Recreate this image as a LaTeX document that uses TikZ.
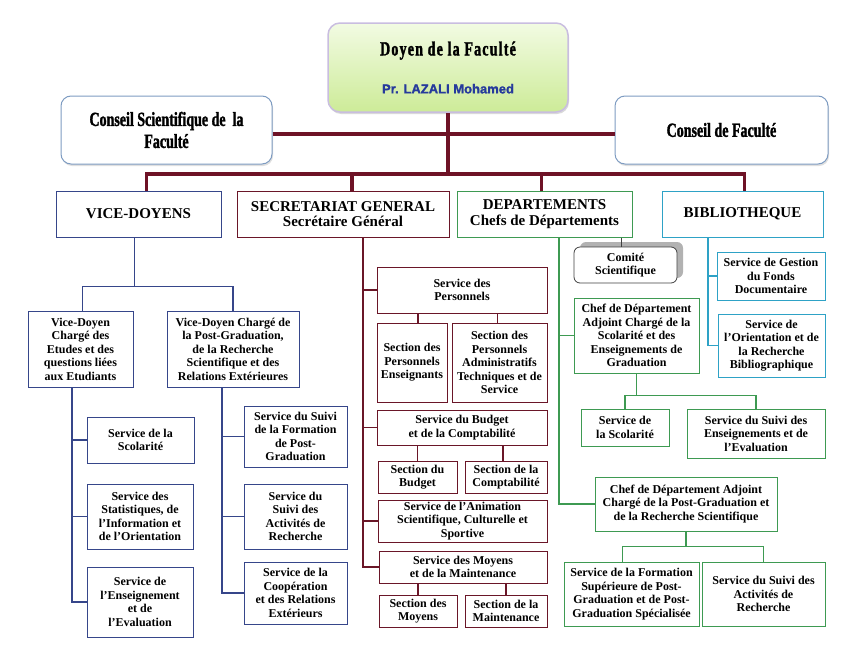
\documentclass[tikz,border=0pt]{standalone}
\usepackage{fontspec}
\setmainfont{Liberation Serif}
\newfontfamily\condfont[FakeStretch=0.7,FakeBold=1.5]{Liberation Serif Bold}
\newfontfamily\doyenfont[FakeStretch=0.7,FakeBold=1.5,LetterSpace=6]{Liberation Serif Bold}
\newfontfamily\namefont[FakeBold=1.5]{Liberation Sans Bold}
\usetikzlibrary{shadows}
\definecolor{busred}{HTML}{6E1226}
\definecolor{sgred}{HTML}{6A1628}
\definecolor{vdblue}{HTML}{36468A}
\definecolor{depgreen}{HTML}{3E9A52}
\definecolor{bibteal}{HTML}{2EA2C6}
\definecolor{conseil}{HTML}{7E9CC2}
\definecolor{namblue}{HTML}{263A9C}
\definecolor{doyenedge}{HTML}{C9BDE0}
\definecolor{doyentop}{HTML}{F2FBE3}
\definecolor{doyenbot}{HTML}{CDEB98}

\begin{document}
\begin{tikzpicture}[x=1pt,y=-1pt,
  every node/.style={align=center,inner xsep=2pt,inner ysep=1pt,
    font=\bfseries\fontsize{12}{13.5}\selectfont},
  doyenbox/.style={draw=doyenedge,line width=1.5pt,rounded corners=12pt,
    top color=doyentop,bottom color=doyenbot,
    drop shadow={opacity=.3,shadow xshift=1pt,shadow yshift=-2pt},
    font=\doyenfont\fontsize{20}{22}\selectfont},
  council/.style={draw=conseil,fill=white,rounded corners=10pt,line width=1pt,
    drop shadow={opacity=.25,shadow xshift=1pt,shadow yshift=-2pt},
    font=\condfont\fontsize{20}{22}\selectfont},
  head/.style={fill=white,line width=1pt,minimum height=46pt,
    font=\bfseries\fontsize{15}{15.5}\selectfont},
  vdbox/.style={draw=vdblue,fill=white,line width=1pt},
  sgbox/.style={draw=sgred,fill=white,line width=1pt},
  depbox/.style={draw=depgreen,fill=white,line width=1pt},
  bibbox/.style={draw=bibteal,fill=white,line width=1pt},
  combox/.style={draw=black!75,fill=white,rounded corners=6pt,line width=.8pt,
    drop shadow={shadow xshift=6pt,shadow yshift=5pt,opacity=1,fill=black!30}},
  busline/.style={draw=busred,line width=3.5pt},
  vdline/.style={draw=vdblue,line width=1.2pt},
  sgline/.style={draw=sgred,line width=1.2pt},
  depline/.style={draw=depgreen,line width=1.2pt},
  bibline/.style={draw=bibteal,line width=1.2pt}]

  \useasboundingbox (0,0) rectangle (856,656);

  % direction
  \node[doyenbox,minimum width=240pt,minimum height=89pt] (doyen) at (448,67.5)
    {Doyen de la Faculté\\[16pt]{\namefont\fontsize{13}{13}\selectfont\color{namblue}Pr. LAZALI Mohamed}};
  \node[council,minimum width=211pt,minimum height=68pt] (csf) at (166.5,130)
    {Conseil Scientifique de\ \ la\\Faculté};
  \node[council,minimum width=213pt,minimum height=68pt] (cf) at (721.5,130)
    {Conseil de Faculté};

  \node[head,draw=vdblue,minimum width=165pt] (vd) at (138.5,214) {VICE-DOYENS};
  \node[head,draw=sgred,minimum width=212pt] (sg) at (343,214)
    {SECRETARIAT GENERAL\\Secrétaire Général};
  \node[head,draw=depgreen,minimum width=175pt] (dep) at (544.5,214)
    {DEPARTEMENTS\\Chefs de Départements};
  \node[head,draw=bibteal,minimum width=161pt] (bib) at (742.5,214) {BIBLIOTHEQUE};

  \coordinate (bus) at (448,174);
  \draw[busline] ([yshift=-4pt]csf.east) -- ([yshift=-4pt]cf.west);
  \draw[busline] (doyen.south) -- (bus);
  \draw[busline] ([xshift=8pt]vd.north) |- (bus) -| ([xshift=2pt]bib.north);
  \draw[busline] ([xshift=9pt]sg.north) -- ([xshift=9pt]sg.north |- bus);
  \draw[busline] ([xshift=-3pt]dep.north) -- ([xshift=-3pt]dep.north |- bus);

  % vice-doyens
  \node[vdbox,minimum width=105pt,minimum height=76pt] (vd1) at (80.5,349)
    {Vice-Doyen\\Chargé des\\Etudes et des\\questions liées\\aux Etudiants};
  \node[vdbox,minimum width=132pt,minimum height=76pt] (vd2) at (233,349)
    {Vice-Doyen Chargé de\\la Post-Graduation,\\de la Recherche\\Scientifique et des\\Relations Extérieures};
  \node[vdbox,minimum width=107pt,minimum height=46pt] (sv1) at (140.5,440)
    {Service de la\\Scolarité};
  \node[vdbox,minimum width=106pt,minimum height=65pt] (sv2) at (140,516.5)
    {Service des\\Statistiques, de\\l’Information et\\de l’Orientation};
  \node[vdbox,minimum width=106pt,minimum height=70pt] (sv3) at (140,602)
    {Service de\\l’Enseignement\\et de\\l’Evaluation};
  \node[vdbox,minimum width=103pt,minimum height=61pt] (sv4) at (295.5,436.5)
    {Service du Suivi\\de la Formation\\de Post-\\Graduation};
  \node[vdbox,minimum width=103pt,minimum height=65pt] (sv5) at (295.5,516.5)
    {Service du\\Suivi des\\Activités de\\Recherche};
  \node[vdbox,minimum width=103pt,minimum height=62pt] (sv6) at (295.5,593)
    {Service de la\\Coopération\\et des Relations\\Extérieurs};

  \draw[vdline] ([xshift=-4pt]vd.south) -- ++(0,49) coordinate (vdb);
  \draw[vdline] ([xshift=2pt]vd1.north) |- (vdb) -| (vd2.north);
  \coordinate (vt1) at ([xshift=-8.5pt]vd1.south);
  \coordinate (vt2) at ([xshift=-11pt]vd2.south);
  \foreach \n in {sv1,sv2,sv3} \draw[vdline] (vt1) |- (\n.west);
  \foreach \n in {sv4,sv5,sv6} \draw[vdline] (vt2) |- (\n.west);

  % secretariat general
  \node[sgbox,minimum width=170pt,minimum height=46pt] (sp) at (462,290)
    {Service des\\Personnels};
  \node[sgbox,minimum width=70pt,minimum height=79pt] (spe) at (412,362.5)
    {Section des\\Personnels\\Enseignants};
  \node[sgbox,minimum width=95pt,minimum height=79pt] (spa) at (499.5,362.5)
    {Section des\\Personnels\\Administratifs\\Techniques et de\\Service};
  \node[sgbox,minimum width=170pt,minimum height=35pt] (sb) at (462,427.5)
    {Service du Budget\\et de la Comptabilité};
  \node[sgbox,minimum width=79pt,minimum height=32pt] (sbb) at (417.5,477)
    {Section du\\Budget};
  \node[sgbox,minimum width=82pt,minimum height=32pt] (sbc) at (506,477)
    {Section de la\\Comptabilité};
  \node[sgbox,minimum width=169pt,minimum height=42pt] (sa) at (462.5,521)
    {Service de l’Animation\\Scientifique, Culturelle et\\Sportive};
  \node[sgbox,minimum width=168pt,minimum height=32pt] (sm) at (463,567)
    {Service des Moyens\\et de la Maintenance};
  \node[sgbox,minimum width=78pt,minimum height=32pt] (smm) at (418,611)
    {Section des\\Moyens};
  \node[sgbox,minimum width=82pt,minimum height=32pt] (smt) at (506,611)
    {Section de la\\Maintenance};

  \coordinate (sgt) at ([xshift=20pt]sg.south);
  \foreach \n in {sp,sb,sa,sm} \draw[sgline] (sgt) |- (\n.west);
  \draw[sgline] ([xshift=6pt]spe.north) -- ([xshift=6pt]spe.north |- sp.south);
  \draw[sgline] ([xshift=-2pt]spa.north) -- ([xshift=-2pt]spa.north |- sp.south);
  \draw[sgline] (sbb.north) -- (sbb.north |- sb.south);
  \draw[sgline] ([xshift=-3pt]sbc.north) -- ([xshift=-3pt]sbc.north |- sb.south);
  \draw[sgline] (smm.north) -- (smm.north |- sm.south);
  \draw[sgline] (smt.north) -- (smt.north |- sm.south);

  % departements
  \node[combox,minimum width=103pt,minimum height=36pt] (com) at (625.5,265)
    {Comité\\Scientifique};
  \node[depbox,minimum width=125pt,minimum height=75pt] (cd1) at (636.5,335.5)
    {Chef de Département\\Adjoint Chargé de la\\Scolarité et des\\Enseignements de\\Graduation};
  \node[depbox,minimum width=88pt,minimum height=37pt] (ds1) at (625,427.5)
    {Service de\\la Scolarité};
  \node[depbox,minimum width=138pt,minimum height=49pt] (ds2) at (756,433.5)
    {Service du Suivi des\\Enseignements et de\\l’Evaluation};
  \node[depbox,minimum width=182pt,minimum height=54pt] (cd2) at (686,504)
    {Chef de Département Adjoint\\Chargé de la Post-Graduation et\\de la Recherche Scientifique};
  \node[depbox,minimum width=135pt,minimum height=64pt] (ds3) at (631.5,594)
    {Service de la Formation\\Supérieure de Post-\\Graduation et de Post-\\Graduation Spécialisée};
  \node[depbox,minimum width=123pt,minimum height=64pt] (ds4) at (763.5,594)
    {Service du Suivi des\\Activités de\\Recherche};

  \draw[black!75,line width=1pt] ([xshift=-4pt]com.north) -- ([xshift=-4pt]com.north |- dep.south);
  \coordinate (dt) at ([xshift=14.5pt]dep.south);
  \foreach \n in {cd1,cd2} \draw[depline] (dt) |- (\n.west);
  \draw[depline] (cd1.south) -- ++(0,22) coordinate (cdb1);
  \draw[depline] (ds1.north) |- (cdb1) -| (ds2.north);
  \draw[depline] (cd2.south) -- ++(0,15) coordinate (cdb2);
  \draw[depline] ([xshift=-9pt]ds3.north) |- (cdb2) -| (ds4.north);

  % bibliotheque
  \node[bibbox,minimum width=108pt,minimum height=48pt] (bg) at (771,276)
    {Service de Gestion\\du Fonds\\Documentaire};
  \node[bibbox,minimum width=107pt,minimum height=63pt] (bo) at (771.5,345.5)
    {Service de\\l’Orientation et de\\la Recherche\\Bibliographique};

  \coordinate (bt) at ([xshift=-34.5pt]bib.south);
  \foreach \n in {bg,bo} \draw[bibline] (bt) |- (\n.west);

\end{tikzpicture}
\end{document}
